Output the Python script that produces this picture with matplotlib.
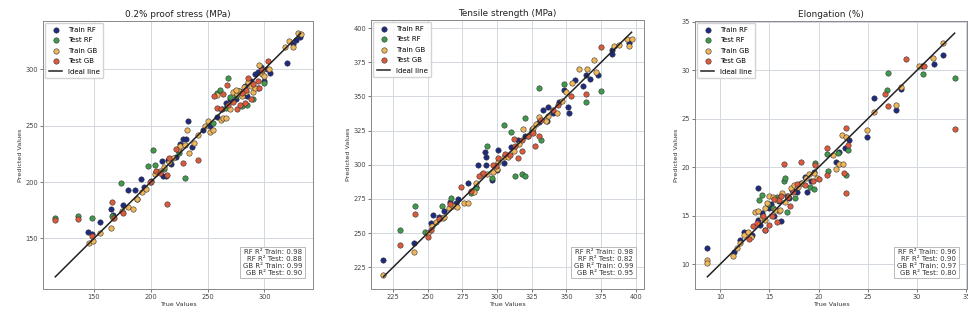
import matplotlib.pyplot as plt
import numpy as np

OUTPUT = "out.png"

SERIES_LABELS = ["Train RF", "Test RF", "Train GB", "Test GB"]
SERIES_COLORS = ["#1c2a80", "#3f9a4c", "#f0b65a", "#de5a3c"]
SCORE_NAMES = ["RF R² Train", "RF R² Test", "GB R² Train", "GB R² Test"]

TITLES = ["0.2% proof stress (MPa)", "Tensile strength (MPa)", "Elongation (%)"]

# (true, predicted) pairs
PROOF_TRAIN_RF = [
    (145, 156), (148, 154), (155, 165), (165, 176), (167, 171), (176, 180),
    (180, 193), (186, 193), (188, 185), (191, 203), (194, 196), (200, 201),
    (205, 209), (210, 219), (211, 205), (213, 205), (215, 220), (218, 216),
    (222, 222), (224, 228), (226, 234), (228, 238), (231, 238), (233, 254),
    (236, 231), (246, 246), (252, 250), (258, 258), (263, 265), (266, 270),
    (270, 274), (275, 274), (278, 281), (283, 285), (288, 290), (292, 296),
    (294, 298), (297, 302), (300, 290), (305, 297), (320, 306), (328, 326),
    (331, 329), (325, 322), (302, 300), (285, 276),
]
PROOF_TEST_RF = [
    (116, 168), (136, 170), (148, 168), (166, 170), (174, 199), (198, 214),
    (202, 228), (204, 215), (212, 212), (230, 204), (225, 226), (258, 279),
    (261, 282), (268, 292), (270, 275), (275, 276), (280, 267), (285, 268),
    (290, 274), (294, 283), (300, 288), (255, 252), (266, 266),
]
PROOF_TRAIN_GB = [
    (146, 146), (149, 148), (155, 155), (165, 159), (167, 168), (175, 174),
    (180, 178), (184, 176), (188, 185), (192, 191), (196, 194), (200, 200),
    (204, 207), (208, 210), (212, 213), (216, 218), (220, 221), (224, 229),
    (226, 232), (230, 233), (232, 246), (234, 226), (238, 235), (242, 242),
    (248, 250), (250, 254), (252, 244), (255, 246), (258, 277), (262, 255),
    (264, 257), (266, 257), (270, 265), (272, 280), (276, 278), (278, 281),
    (282, 284), (286, 289), (288, 285), (290, 280), (292, 283), (295, 304),
    (298, 296), (300, 294), (304, 300), (318, 320), (322, 325), (325, 320),
    (330, 332), (332, 331), (280, 276), (275, 282), (284, 280),
]
PROOF_TEST_GB = [
    (116, 166), (136, 167), (148, 152), (166, 182), (168, 168), (176, 173),
    (199, 200), (205, 210), (208, 208), (214, 206), (214, 181), (216, 221),
    (228, 217), (242, 220), (222, 229), (256, 276), (258, 266), (262, 265),
    (264, 278), (267, 286), (272, 271), (276, 265), (279, 268), (283, 270),
    (288, 274), (286, 292), (290, 287), (295, 283), (303, 307), (284, 282),
    (280, 279), (298, 299), (268, 268), (294, 290),
]
PROOF_SCORES = [0.98, 0.88, 0.99, 0.90]

TENSILE_TRAIN_RF = [
    (218, 230), (240, 243), (252, 257), (254, 263), (262, 266), (266, 273),
    (272, 275), (279, 287), (286, 300), (292, 300), (292, 306), (296, 289),
    (305, 301), (291, 309), (301, 311), (325, 325), (333, 340), (337, 342),
    (336, 332), (348, 355), (351, 342), (352, 338), (356, 362), (364, 366),
    (367, 363), (373, 366), (383, 384), (383, 381), (395, 389), (362, 358),
    (340, 338), (320, 321), (310, 313), (270, 272), (258, 262), (345, 346),
    (330, 331), (285, 284), (300, 296), (315, 318),
]
TENSILE_TEST_RF = [
    (230, 252), (241, 270), (248, 251), (260, 270), (267, 276), (281, 279),
    (293, 314), (305, 329), (310, 324), (313, 292), (318, 293), (320, 292),
    (320, 334), (330, 356), (332, 318), (348, 359), (364, 346), (375, 354),
    (296, 290), (325, 326), (285, 283),
]
TENSILE_TRAIN_GB = [
    (218, 219), (240, 236), (250, 250), (253, 255), (256, 258), (261, 261),
    (265, 268), (268, 270), (271, 269), (276, 272), (279, 272), (283, 280),
    (289, 293), (293, 293), (297, 295), (301, 302), (305, 306), (308, 306),
    (312, 310), (316, 315), (319, 326), (322, 321), (326, 327), (330, 335),
    (337, 336), (343, 338), (347, 347), (350, 353), (354, 360), (359, 370),
    (365, 370), (371, 368), (370, 377), (384, 387), (388, 388), (394, 392),
    (397, 392), (395, 387), (328, 330), (335, 332), (300, 297), (262, 262),
    (285, 287),
]
TENSILE_TEST_GB = [
    (230, 241), (241, 264), (250, 247), (252, 252), (258, 260), (266, 271),
    (274, 284), (281, 281), (287, 292), (290, 294), (299, 299), (301, 305),
    (309, 307), (313, 314), (315, 305), (318, 310), (312, 319), (318, 318),
    (322, 321), (327, 314), (330, 321), (326, 323), (340, 340), (353, 350),
    (364, 352), (375, 386), (344, 344), (297, 300), (306, 308), (332, 333),
]
TENSILE_SCORES = [0.98, 0.82, 0.99, 0.95]

ELONG_TRAIN_RF = [
    (8.7, 11.7), (11.4, 11.3), (12.0, 12.5), (12.4, 13.3), (13.2, 13.0),
    (13.8, 14.6), (13.8, 17.8), (14.5, 13.5), (14.2, 15.3), (15.0, 15.8),
    (15.5, 15.0), (16.2, 14.5), (16.0, 16.5), (16.8, 17.0), (17.3, 17.6),
    (17.8, 17.4), (18.8, 17.4), (18.6, 19.0), (19.2, 18.6), (19.5, 19.5),
    (21.8, 20.5), (22.1, 21.6), (22.7, 22.0), (23.1, 22.8), (24.9, 23.1),
    (25.6, 27.1), (27.8, 25.9), (28.4, 28.1), (30.5, 30.4), (31.7, 30.6),
    (32.6, 31.6), (15.2, 16.2), (17.0, 16.8), (14.0, 14.0),
]
ELONG_TEST_RF = [
    (13.9, 16.6), (14.2, 17.1), (14.9, 16.2), (15.4, 15.8), (16.5, 18.6),
    (16.6, 18.9), (16.8, 15.4), (17.6, 16.8), (18.2, 18.4), (19.1, 18.0),
    (19.5, 17.7), (19.6, 20.4), (20.8, 21.4), (20.9, 19.6), (22.0, 21.5),
    (22.8, 19.2), (23.0, 21.8), (26.9, 27.9), (27.0, 29.7), (30.6, 29.6),
    (33.8, 29.2), (15.8, 16.9),
]
ELONG_TRAIN_GB = [
    (8.7, 10.4), (8.7, 10.1), (11.3, 10.8), (11.7, 11.7), (12.0, 12.2),
    (12.4, 13.0), (12.8, 13.3), (13.5, 15.4), (13.8, 15.5), (14.2, 14.8),
    (14.5, 15.8), (14.8, 16.3), (15.0, 17.0), (15.4, 16.9), (15.8, 16.6),
    (16.0, 15.5), (16.3, 17.3), (16.6, 16.4), (16.9, 17.0), (17.2, 17.8),
    (17.5, 18.2), (17.9, 18.0), (18.3, 18.4), (18.7, 18.9), (19.0, 19.3),
    (19.5, 19.4), (19.8, 18.9), (21.5, 21.2), (21.8, 19.8), (22.1, 20.3),
    (22.5, 20.3), (22.4, 23.3), (22.8, 23.1), (24.9, 23.8), (25.6, 25.7),
    (27.8, 26.4), (28.4, 28.3), (30.2, 30.4), (31.6, 31.2), (32.6, 32.8),
    (14.6, 14.6), (15.6, 15.6), (13.1, 12.8), (16.1, 15.6),
]
ELONG_TEST_GB = [
    (12.9, 12.6), (13.3, 13.9), (13.7, 14.2), (14.3, 15.0), (14.6, 13.5),
    (15.0, 14.0), (15.3, 15.0), (15.8, 14.3), (16.0, 16.6), (16.2, 17.0),
    (16.5, 20.3), (16.9, 16.9), (17.4, 17.4), (17.8, 18.3), (18.2, 20.5),
    (18.6, 18.2), (19.4, 18.6), (19.6, 20.2), (20.0, 18.8), (20.8, 19.2),
    (20.8, 22.0), (22.6, 19.4), (22.8, 17.3), (22.8, 24.0), (23.0, 22.3),
    (26.7, 27.5), (27.0, 26.3), (28.9, 31.1), (30.7, 30.4), (33.8, 23.9),
    (17.1, 16.0), (15.5, 16.7),
]
ELONG_SCORES = [0.96, 0.90, 0.97, 0.80]

PANEL_SERIES = [
    [PROOF_TRAIN_RF, PROOF_TEST_RF, PROOF_TRAIN_GB, PROOF_TEST_GB],
    [TENSILE_TRAIN_RF, TENSILE_TEST_RF, TENSILE_TRAIN_GB, TENSILE_TEST_GB],
    [ELONG_TRAIN_RF, ELONG_TEST_RF, ELONG_TRAIN_GB, ELONG_TEST_GB],
]
PANEL_SCORES = [PROOF_SCORES, TENSILE_SCORES, ELONG_SCORES]

# axes boxes in figure pixels: left, bottom, width, height
AXES_PX = [(43, 37, 270, 268), (371, 37, 273, 269), (695, 37, 272, 268)]
FIG_W, FIG_H = 968, 326


def draw_panel(ax, title, series, scores) -> None:
    all_true = []
    for points, label, color in zip(series, SERIES_LABELS, SERIES_COLORS):
        arr = np.array(points, dtype=float)
        all_true.extend(arr[:, 0])
        ax.scatter(
            arr[:, 0], arr[:, 1], s=15, color=color, edgecolors="#333333",
            linewidths=0.4, label=label, zorder=3,
        )
    lo, hi = min(all_true), max(all_true)
    ax.plot([lo, hi], [lo, hi], color="#222222", linewidth=1.1,
            label="Ideal line", zorder=4)

    text = "\n".join(f"{name}: {val:.2f}" for name, val in zip(SCORE_NAMES, scores))
    ax.text(
        0.96, 0.05, text, transform=ax.transAxes, ha="right", va="bottom",
        fontsize=5, color="#333333", linespacing=1.15,
        bbox=dict(boxstyle="square,pad=0.35", facecolor="white",
                  edgecolor="#b0b0b0", linewidth=0.6),
        zorder=5,
    )
    ax.set_title(title, fontsize=6.4, color="#222222", pad=3)
    ax.set_xlabel("True Values", fontsize=4.6, color="#333333", labelpad=1.5)
    ax.set_ylabel("Predicted Values", fontsize=4.6, color="#333333", labelpad=2)
    ax.tick_params(labelsize=4.8, length=2, width=0.5, pad=1.5,
                   colors="#444444")
    ax.grid(color="#d3d8e0", linewidth=0.7)
    ax.set_axisbelow(True)
    for spine in ax.spines.values():
        spine.set_color("#888888")
        spine.set_linewidth(0.7)
    ax.legend(loc="upper left", fontsize=5, frameon=True, borderpad=0.5,
              labelspacing=0.65, handlelength=2.0, handletextpad=0.8,
              borderaxespad=0.3, framealpha=0.85, edgecolor="#cccccc")


def main() -> None:
    fig = plt.figure(figsize=(FIG_W / 100, FIG_H / 100), dpi=100)
    for (left, bottom, width, height), title, series, scores in zip(
        AXES_PX, TITLES, PANEL_SERIES, PANEL_SCORES
    ):
        ax = fig.add_axes([left / FIG_W, bottom / FIG_H, width / FIG_W, height / FIG_H])
        draw_panel(ax, title, series, scores)
    fig.savefig(OUTPUT, dpi=100)
    plt.close(fig)


if __name__ == "__main__":
    main()
